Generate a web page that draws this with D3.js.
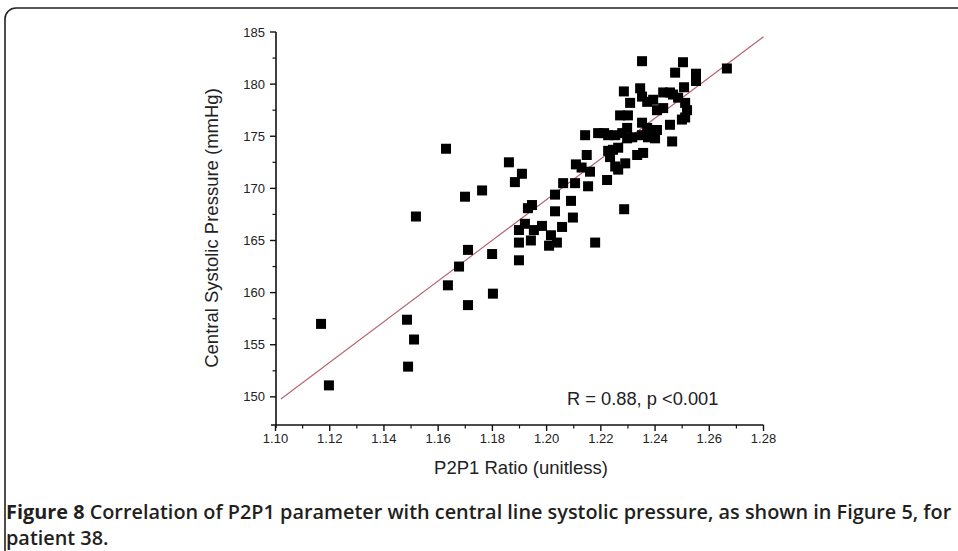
<!DOCTYPE html>
<html><head><meta charset="utf-8">
<script src="https://cdnjs.cloudflare.com/ajax/libs/d3/7.8.5/d3.min.js"></script>
<style>body{margin:0;background:#fff}svg{display:block}</style>
</head><body>
<svg id="c" width="958" height="551"></svg>
<script>
// Data
const p2p1 = [1.1168,1.1197,1.1485,1.1511,1.1489,1.1518,1.1629,1.1636,1.1677,1.1710,1.1710,1.1699,1.1762,1.1799,1.1802,
1.1861,1.1883,1.1909,1.1898,1.1898,1.1898,1.1920,1.1931,1.1946,1.1942,1.1953,1.1983,1.2016,1.2009,1.2038,1.2031,1.2031,
1.2057,1.2061,1.2090,1.2097,1.2105,1.2179,1.2286,1.2108,1.2129,1.2148,1.2142,1.2160,1.2153,1.2190,1.2212,1.2223,1.2227,
1.2227,1.2245,1.2234,1.2253,1.2253,1.2264,1.2264,1.2290,1.2279,1.2297,1.2297,1.2316,1.2334,1.2356,1.2352,1.2371,1.2352,
1.2374,1.2407,1.2400,1.2455,1.2463,1.2271,1.2300,1.2285,1.2308,1.2345,1.2352,1.2352,1.2371,1.2393,1.2430,1.2455,1.2466,
1.2485,1.2407,1.2430,1.2511,1.2518,1.2499,1.2511,1.2507,1.2503,1.2474,1.2551,1.2551,1.2665];
const pressure = [157.0,151.1,157.4,155.5,152.9,167.3,173.8,160.7,162.5,164.1,158.8,169.2,169.8,163.7,159.9,
172.5,170.6,171.4,166.0,164.8,163.1,166.6,168.1,168.4,165.0,166.0,166.4,165.5,164.5,164.8,167.8,169.4,
166.3,170.5,168.8,167.2,170.5,164.8,168.0,172.3,172.0,173.2,175.1,171.6,170.2,175.3,175.3,170.8,175.1,
173.6,173.7,173.0,175.1,172.1,171.8,173.9,172.4,175.3,175.8,174.8,174.9,173.2,173.4,176.3,175.8,175.1,
174.9,175.6,174.8,176.1,174.5,177.0,177.0,179.3,178.2,179.6,178.8,182.2,178.3,178.5,179.2,179.2,179.0,
178.7,177.5,177.7,178.2,177.5,176.6,176.8,179.7,182.1,181.1,181.0,180.3,181.5];
const fitX = [1.102, 1.28];
const fitY = [149.8, 184.55];
const xTicks = ["1.10","1.12","1.14","1.16","1.18","1.20","1.22","1.24","1.26","1.28"];
const yTicks = ["150","155","160","165","170","175","180","185"];
const xTitle = "P2P1 Ratio (unitless)";
const yTitle = "Central Systolic Pressure (mmHg)";
const statText = "R = 0.88, p <0.001";
const captionBold = "Figure 8";
const captionRest1 = " Correlation of P2P1 parameter with central line systolic pressure, as shown in Figure 5, for";
const captionLine2 = "patient 38.";

const svg = d3.select("#c");
// frame
svg.append("rect").attr("x",5).attr("y",8).attr("width",980).attr("height",600)
  .attr("rx",11).attr("ry",11).attr("fill","none").attr("stroke","#222").attr("stroke-width",1.6);

const x = d3.scaleLinear().domain([1.10,1.28]).range([275.5,763.5]);
const y = d3.scaleLinear().domain([147.3,185]).range([425,32]);
const g = svg.append("g");
const FONT = "Liberation Sans, Arial, sans-serif";

// x axis
const xMajor = xTicks.map(Number);
const xMinor = d3.range(1.11,1.28,0.02);
const xa = g.append("g").attr("transform","translate(0,425)");
xa.append("line").attr("x1",271).attr("x2",x(1.28)).attr("stroke","#111").attr("stroke-width",1.6);
xa.selectAll(".mj").data(xMajor).join("line").attr("x1",d=>x(d)).attr("x2",d=>x(d)).attr("y1",0).attr("y2",6).attr("stroke","#111").attr("stroke-width",1.4);
xa.selectAll(".mn").data(xMinor).join("line").attr("x1",d=>x(d)).attr("x2",d=>x(d)).attr("y1",0).attr("y2",3.5).attr("stroke","#111").attr("stroke-width",1.2);
xa.selectAll("text").data(xTicks).join("text").attr("x",d=>x(+d)).attr("y",18).attr("text-anchor","middle")
  .attr("font-family",FONT).attr("font-size",13).attr("fill","#222").text(d=>d);

// y axis
const yMajor = yTicks.map(Number);
const yMinor = d3.range(152.5,185,5);
const ya = g.append("g").attr("transform","translate(276,0)");
ya.append("line").attr("y1",y(185)).attr("y2",428).attr("stroke","#111").attr("stroke-width",1.6);
ya.selectAll(".mj").data(yMajor).join("line").attr("y1",d=>y(d)).attr("y2",d=>y(d)).attr("x1",0).attr("x2",-6).attr("stroke","#111").attr("stroke-width",1.4);
ya.selectAll(".mn").data(yMinor).join("line").attr("y1",d=>y(d)).attr("y2",d=>y(d)).attr("x1",0).attr("x2",-3.5).attr("stroke","#111").attr("stroke-width",1.2);
ya.selectAll("text").data(yTicks).join("text").attr("x",-11).attr("y",d=>y(+d)+4.5).attr("text-anchor","end")
  .attr("font-family",FONT).attr("font-size",13).attr("fill","#222").text(d=>d);

// titles
svg.append("text").attr("x",521).attr("y",474).attr("text-anchor","middle")
  .attr("font-family",FONT).attr("font-size",18.5).attr("fill","#222").text(xTitle);
svg.append("text").attr("transform","translate(218,228) rotate(-90)").attr("text-anchor","middle")
  .attr("font-family",FONT).attr("font-size",18.5).attr("fill","#222").text(yTitle);

// fit line
svg.append("line").attr("x1",x(fitX[0])).attr("y1",y(fitY[0])).attr("x2",x(fitX[1])).attr("y2",y(fitY[1]))
  .attr("stroke","#b4606c").attr("stroke-width",1.1);

// points
const s = 10;
svg.append("g").selectAll("rect").data(p2p1.map((v,i)=>[v,pressure[i]])).join("rect")
  .attr("x",d=>x(d[0])-s/2).attr("y",d=>y(d[1])-s/2).attr("width",s).attr("height",s).attr("fill","#000");

// stat
svg.append("text").attr("x",567).attr("y",405)
  .attr("font-family",FONT).attr("font-size",18.3).attr("fill","#222").text(statText);

// caption (condensed by horizontal scaling)
const CFS = 19.5;
const cap = svg.append("text").attr("x",0).attr("y",0).attr("font-family","Open Sans, sans-serif").attr("font-size",CFS).attr("fill","#231f20");
cap.append("tspan").attr("font-weight",700).text(captionBold);
cap.append("tspan").attr("font-weight",600).text(captionRest1);
const w = cap.node().getComputedTextLength();
const k = 946/w;
cap.attr("transform",`translate(6,519) scale(${k},1)`);
svg.append("text").attr("transform",`translate(6,545) scale(${k},1)`).attr("font-family","Open Sans, sans-serif").attr("font-size",CFS)
  .attr("font-weight",600).attr("fill","#231f20").text(captionLine2);
</script>
</body></html>
